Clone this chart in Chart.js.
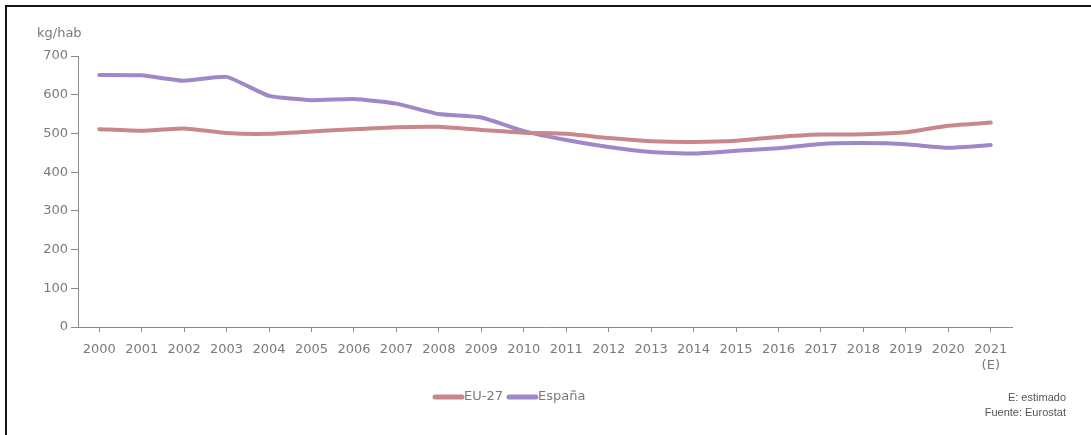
<!DOCTYPE html>
<html>
<head>
<meta charset="utf-8">
<script src="https://cdn.jsdelivr.net/npm/chart.js@4/dist/chart.umd.min.js"></script>
<style>
  html, body { margin: 0; padding: 0; background: #fff; }
  #wrap { position: relative; width: 1091px; height: 435px; overflow: hidden; }
  #frame { position: absolute; left: 5px; top: 5px; right: -10px; bottom: -10px;
           border-left: 2px solid #151515; border-top: 2px solid #151515; }
  canvas { position: absolute; left: 0; top: 0; }
</style>
</head>
<body>
<div id="wrap">
  <div id="frame"></div>
  <canvas id="chart" width="1091" height="435"></canvas>
</div>
<script>
const years = ["2000", "2001", "2002", "2003", "2004", "2005", "2006", "2007", "2008", "2009", "2010",
    "2011", "2012", "2013", "2014", "2015", "2016", "2017", "2018", "2019", "2020", ["2021", "(E)"]];
const eu27 = [511, 507, 513, 501, 499, 505, 511, 516, 517, 509, 502,
    499, 488, 480, 478, 481, 491, 497, 498, 503, 520, 528];
const espana = [651, 650, 636, 646, 597, 586, 589, 577, 550, 541, 506,
    483, 465, 452, 448, 455, 462, 473, 475, 472, 463, 470];
const seriesNames = ["EU-27", "España"];
const seriesColors = ["#c7878c", "#9e88c8"];
const yTicks = [0, 100, 200, 300, 400, 500, 600, 700];
const unitLabel = "kg/hab";
const notes = ["E: estimado", "Fuente: Eurostat"];

const gray = "#8a8a8a";
const textGray = "#7a7a7a";

// draws the unit label, the legend and the notes
const extras = {
    id: "extras",
    afterDraw(chart) {
        const ctx = chart.ctx;
        ctx.save();
        ctx.fillStyle = textGray;
        ctx.font = "13px 'DejaVu Sans'";
        ctx.textBaseline = "middle";
        ctx.textAlign = "left";
        ctx.fillText(unitLabel, 37, 34);

        // legend
        let x = 432;
        const y = 397;
        chart.data.datasets.forEach(ds => {
            ctx.strokeStyle = ds.borderColor;
            ctx.lineWidth = 5;
            ctx.lineCap = "round";
            ctx.beginPath();
            ctx.moveTo(x + 3, y);
            ctx.lineTo(x + 30, y);
            ctx.stroke();
            ctx.fillStyle = textGray;
            ctx.fillText(ds.label, x + 32, y);
            x += 32 + ctx.measureText(ds.label).width + 3;
        });

        ctx.font = "11px 'Liberation Sans'";
        ctx.fillStyle = "#555";
        ctx.textAlign = "right";
        ctx.fillText(notes[0], 1066, 398);
        ctx.fillText(notes[1], 1066, 413);
        ctx.restore();
    }
};

new Chart(document.getElementById("chart"), {
    type: "line",
    data: {
        labels: years,
        datasets: [
            { label: seriesNames[0], data: eu27, borderColor: seriesColors[0] },
            { label: seriesNames[1], data: espana, borderColor: seriesColors[1] }
        ]
    },
    options: {
        responsive: false,
        animation: false,
        devicePixelRatio: 1,
        layout: { padding: { left: 38, right: 79, top: 56, bottom: 62 } },
        elements: {
            line: { borderWidth: 4, tension: 0.15, borderCapStyle: "round", borderJoinStyle: "round" },
            point: { radius: 0 }
        },
        plugins: {
            legend: { display: false },
            tooltip: { enabled: false }
        },
        scales: {
            x: {
                offset: true,
                grid: { drawOnChartArea: false, drawTicks: true, tickLength: 5, color: gray },
                border: { color: gray, width: 1 },
                ticks: { color: textGray, font: { family: "DejaVu Sans", size: 13, lineHeight: 1.25 }, padding: 9,
                    maxRotation: 0, autoSkip: false },
                afterFit(scale) { scale.height = 46; }
            },
            y: {
                min: 0,
                max: 700,
                afterBuildTicks(scale) { scale.ticks = yTicks.map(v => ({ value: v })); },
                grid: { drawOnChartArea: false, drawTicks: true, tickLength: 7, color: gray },
                border: { color: gray, width: 1 },
                ticks: { color: textGray, font: { family: "DejaVu Sans", size: 13 }, padding: 3 },
                afterFit(scale) { scale.width = 40; }
            }
        }
    },
    plugins: [extras]
});
</script>
</body>
</html>
